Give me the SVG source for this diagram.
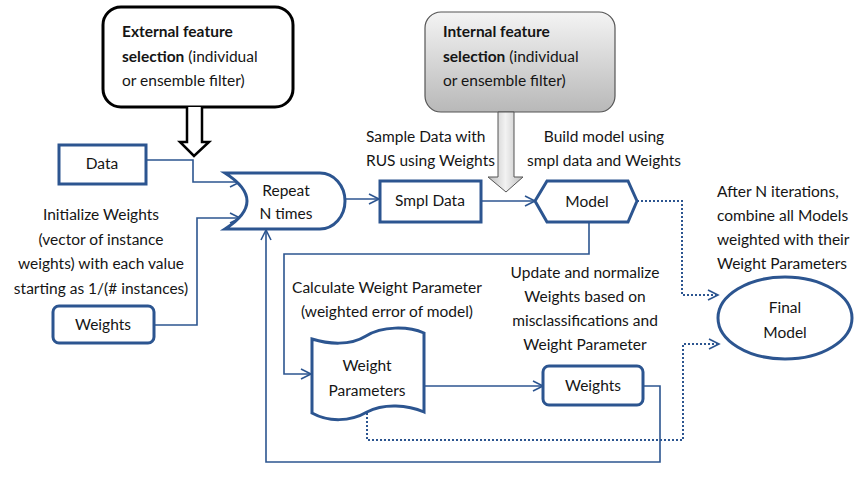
<svg xmlns="http://www.w3.org/2000/svg" width="854" height="485" viewBox="0 0 854 485">
<defs>
<style>
text{font-family:Lato,"Open Sans","Liberation Sans",sans-serif;font-size:15.5px;fill:#151515}
.c{text-anchor:middle}
.b{font-weight:bold}
.node{fill:#fff;stroke:#2C5590;stroke-width:3}
.con{fill:none;stroke:#2C5590;stroke-width:1.6}
.dot{fill:none;stroke:#2C5590;stroke-width:2;stroke-dasharray:2 2}
</style>
<marker id="ar" markerUnits="userSpaceOnUse" markerWidth="14" markerHeight="14" refX="11" refY="6" orient="auto">
<path d="M1,1 L11,6 L1,11" fill="none" stroke="#2C5590" stroke-width="1.6"/>
</marker>
<linearGradient id="gbox" x1="0" y1="0" x2="0" y2="1">
<stop offset="0" stop-color="#f4f4f4"/>
<stop offset="1" stop-color="#b8b8b8"/>
</linearGradient>
<linearGradient id="garr" x1="0" y1="0" x2="1" y2="0">
<stop offset="0" stop-color="#bdbdbd"/>
<stop offset="0.5" stop-color="#f2f2f2"/>
<stop offset="1" stop-color="#bdbdbd"/>
</linearGradient>
</defs>

<g id="connectors">
<path class="con" d="M146,160 H193 V182 H240" marker-end="url(#ar)"/>
<path class="con" d="M153,325 H197 V218 H240" marker-end="url(#ar)"/>
<path class="con" d="M345,199 H379" marker-end="url(#ar)"/>
<path class="con" d="M481,201 H535" marker-end="url(#ar)"/>
<path class="con" d="M589,222 V254 H284 V374 H311" marker-end="url(#ar)"/>
<path class="con" d="M424,386 H543" marker-end="url(#ar)"/>
<path class="con" d="M643,386 H660 V462 H266 V230" marker-end="url(#ar)"/>
<path class="dot" d="M637,201 H682 V295 H718" marker-end="url(#ar)"/>
<path class="dot" d="M367,413 V440 H683 V344 H719" marker-end="url(#ar)"/>
</g>

<g id="external">
<rect x="103" y="7" width="190" height="100" rx="18" fill="#fff" stroke="#000" stroke-width="3"/>
<text x="122" y="37" class="b">External feature</text>
<text x="122" y="62"><tspan class="b">selection</tspan> (individual</text>
<text x="122" y="86">or ensemble filter)</text>
<path d="M187,107 V142 H180 L194,156 L209,142 H202 V107" fill="#fff" stroke="#000" stroke-width="2.5"/>
</g>

<g id="internal">
<rect x="425" y="12" width="190" height="100" rx="16" fill="url(#gbox)" stroke="#555" stroke-width="1.2"/>
<text x="443" y="37" class="b">Internal feature</text>
<text x="443" y="62"><tspan class="b">selection</tspan> (individual</text>
<text x="443" y="86">or ensemble filter)</text>
<path d="M498,112 V177 H488 L506,192 L523,177 H514 V112 Z" fill="url(#garr)" stroke="#555" stroke-width="1"/>
</g>

<g id="data">
<rect class="node" x="59" y="145" width="87" height="39"/>
<text x="102" y="169" class="c">Data</text>
</g>

<g id="init-text">
<text x="101" y="220" class="c">Initialize Weights</text>
<text x="101" y="245" class="c">(vector of instance</text>
<text x="101" y="269" class="c">weights) with each value</text>
<text x="101" y="294" class="c">starting as 1/(# instances)</text>
</g>

<g id="weights-init">
<rect class="node" x="53" y="306" width="101" height="37" rx="6"/>
<text x="103" y="330" class="c">Weights</text>
</g>

<g id="repeat">
<path class="node" d="M225,173 H320 A25,28 0 0 1 320,229 H225 Q269,201 225,173 Z"/>
<text x="286" y="196" class="c">Repeat</text>
<text x="286" y="219" class="c">N times</text>
</g>

<g id="sample-text">
<text x="366" y="142">Sample Data with</text>
<text x="366" y="166">RUS using Weights</text>
</g>

<g id="smpl">
<rect class="node" x="380" y="181" width="101" height="41"/>
<text x="430" y="206" class="c">Smpl Data</text>
</g>

<g id="build-text">
<text x="604" y="142" class="c">Build model using</text>
<text x="604" y="166" class="c">smpl data and Weights</text>
</g>

<g id="model">
<path class="node" d="M535,201 L547,181 H628 L637,201 L628,222 H547 Z"/>
<text x="587" y="207" class="c">Model</text>
</g>

<g id="after-text">
<text x="717" y="197">After N iterations,</text>
<text x="717" y="221">combine all Models</text>
<text x="717" y="245">weighted with their</text>
<text x="717" y="269">Weight Parameters</text>
</g>

<g id="final">
<ellipse class="node" cx="785" cy="318" rx="67" ry="41"/>
<text x="785" y="313" class="c">Final</text>
<text x="785" y="338" class="c">Model</text>
</g>

<g id="calc-text">
<text x="387" y="293" class="c">Calculate Weight Parameter</text>
<text x="387" y="317" class="c">(weighted error of model)</text>
</g>

<g id="weight-params">
<path class="node" d="M312,339 C328,344 350,346 366,336 C382,326 408,326 424,333 V412 C408,405 384,403 367,412 C350,422 328,422 312,413 Z"/>
<text x="367" y="371" class="c">Weight</text>
<text x="367" y="396" class="c">Parameters</text>
</g>

<g id="update-text">
<text x="585" y="278" class="c">Update and normalize</text>
<text x="585" y="302" class="c">Weights based on</text>
<text x="585" y="326" class="c">misclassifications and</text>
<text x="585" y="350" class="c">Weight Parameter</text>
</g>

<g id="weights-upd">
<rect class="node" x="543" y="366" width="100" height="39" rx="6"/>
<text x="593" y="391" class="c">Weights</text>
</g>
</svg>
